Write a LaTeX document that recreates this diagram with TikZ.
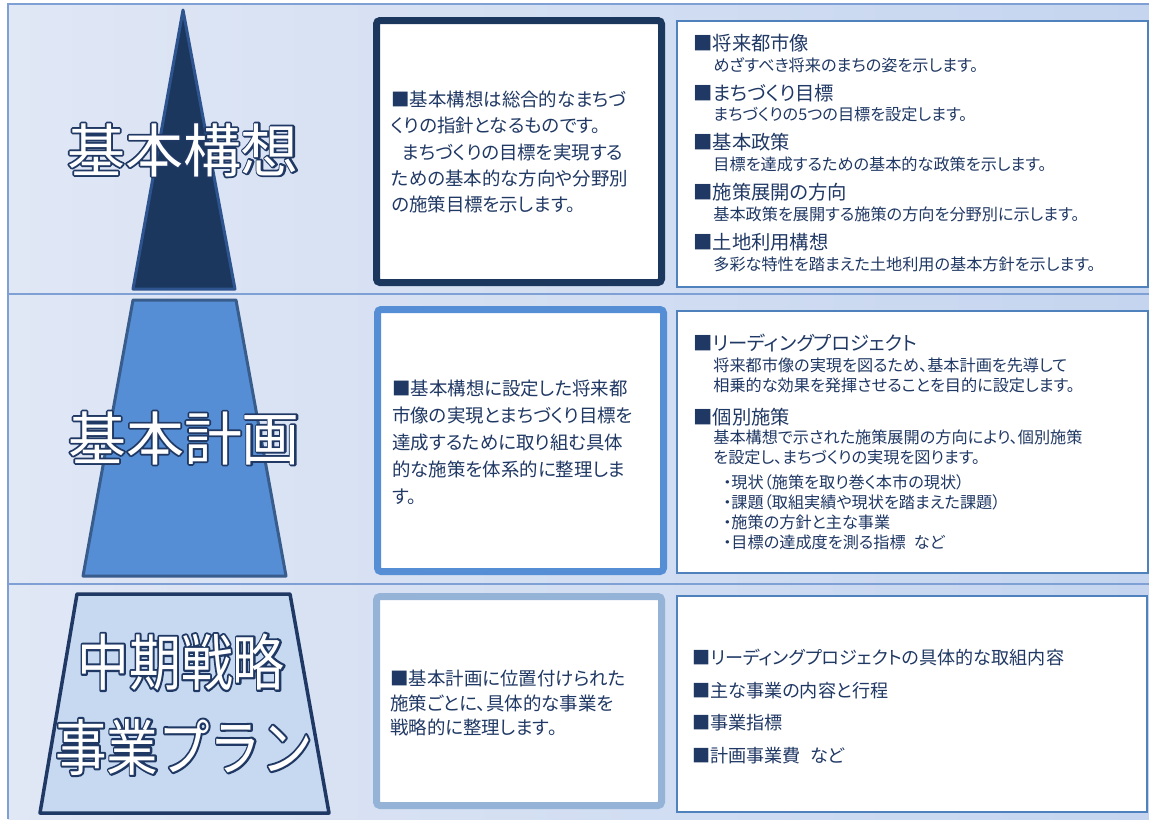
\documentclass[tikz,border=0pt]{standalone}
\usepackage{fontspec}
\usepackage{xcolor}
\usepackage{graphicx}
\usepackage{tikz}
\usetikzlibrary{positioning}
\setmainfont{Noto Sans CJK JP}[RawFeature=+palt]
\newfontfamily\titlefont{Noto Sans CJK JP}
\newlength{\pxu}
\setlength{\pxu}{0.02cm}
\newcommand{\rimtext}[1]{\rlap{\special{pdf:literal direct 1 Tr 2 w 1 j 0.122 0.220 0.392 RG}#1\special{pdf:literal direct 0 Tr 0 j 0.398 w}}#1}
\definecolor{bgleft}{RGB}{224,231,245}
\definecolor{bgright}{RGB}{197,213,239}
\definecolor{rulecol}{RGB}{126,160,212}
\definecolor{kousoublue}{RGB}{27,55,94}
\definecolor{kousouedge}{RGB}{46,84,144}
\definecolor{keikakublue}{RGB}{85,142,213}
\definecolor{keikakuedge}{RGB}{56,93,140}
\definecolor{planblue}{RGB}{198,217,241}
\definecolor{planframe}{RGB}{149,179,215}
\definecolor{navy}{RGB}{31,56,100}
\definecolor{listedge}{RGB}{79,129,189}
\definecolor{textnavy}{RGB}{32,56,100}

\begin{document}
\begin{tikzpicture}[x=0.02cm, y=-0.02cm,
    tierline/.style={line width=3\pxu, line join=round},
    midframe/.style={line width=7\pxu, rounded corners=2pt, fill=white},
    listbox/.style={draw=listedge, line width=1.5\pxu, fill=white},
    tiertitle/.style={text=white, inner sep=0pt},
    midtext/.style={font=\fontsize{10.5}{15}\selectfont, text=textnavy, align=left, anchor=west, inner sep=0pt},
    listhead/.style={font=\fontsize{11}{13}\selectfont, text=textnavy, anchor=west, inner sep=0pt},
    listsub/.style={font=\fontsize{9.2}{11.3}\selectfont, text=textnavy, align=left, anchor=west, inner sep=0pt},
    plantext/.style={font=\fontsize{10.3}{12}\selectfont, text=textnavy, anchor=west, inner sep=0pt}
]
    \useasboundingbox (0,0) rectangle (1149,819);
    \shade[left color=bgleft, right color=bgright] (8,4) rectangle (1149,819);
    \draw[rulecol, line width=2\pxu] (8,819) -- (8,4) -- (1149,4);
    \draw[rulecol, line width=2\pxu] (8,293.5) -- (1149,293.5);
    \draw[rulecol, line width=2\pxu] (8,584) -- (1149,584);

    \filldraw[tierline, fill=kousoublue, draw=kousouedge] (183,10) -- (235,289) -- (133,289) -- cycle;
    \filldraw[tierline, fill=keikakublue, draw=keikakuedge] (133,300) -- (236,300) -- (286,576) -- (83,576) -- cycle;
    \filldraw[tierline, fill=planblue, draw=navy, line width=3.5\pxu] (77,594) -- (290,594) -- (329,813) -- (40,813) -- cycle;

    \draw[midframe, draw=kousoublue] (376.5,20.5) rectangle (661.5,282.5);
    \draw[midframe, draw=keikakublue] (377.5,309.5) rectangle (663.5,571.5);
    \draw[midframe, draw=planframe] (376.5,596.5) rectangle (661.5,805.5);

    \draw[listbox] (677,21) rectangle (1148,287);
    \draw[listbox] (677,311) rectangle (1148,573);
    \draw[listbox] (677,596) rectangle (1147,812);

    \foreach \ttl/\tx/\ty/\ts/\tf [count=\k] in {基本構想/183/150/33/1,基本計画/184/438/33/1,中期戦略/181/662/29.5/1.18,事業プラン/184/747/29.3/1.18}
        \node[tiertitle, font=\titlefont\fontsize{\ts}{\ts}\selectfont] (title\k) at (\tx,\ty) {\scalebox{1}[\tf]{\rimtext{\ttl}}};

    \node[midtext] (kousoutext) at (391,152) {■基本構想は総合的なまちづ\\くりの指針となるものです。\\\hspace*{0.6em}まちづくりの目標を実現する\\ための基本的な方向や分野別\\の施策目標を示します。};
    \node[midtext, font=\fontsize{10.5}{15.4}\selectfont] (keikakutext) at (392,442) {■基本構想に設定した将来都\\市像の実現とまちづくり目標を\\達成するために取り組む具体\\的な施策を体系的に整理しま\\す。};
    \node[midtext, font=\fontsize{10.5}{13.9}\selectfont] (plantext) at (390,703) {■基本計画に位置付けられた\\施策ごとに、具体的な事業を\\戦略的に整理します。};

    \foreach \headtxt/\subtxt [count=\i from 0] in {将来都市像/めざすべき将来のまちの姿を示します。,まちづくり目標/まちづくりの5つの目標を設定します。,基本政策/目標を達成するための基本的な政策を示します。,施策展開の方向/基本政策を展開する施策の方向を分野別に示します。,土地利用構想/多彩な特性を踏まえた土地利用の基本方針を示します。}{
        \node[listhead] (kousouhead\i) at (693,43+49.8*\i) {■\headtxt};
        \node[listsub] (kousousub\i) at (713,65+49.8*\i) {\subtxt};
    }

    \node[listhead] (projhead) at (693,343) {■リーディングプロジェクト};
    \node[listsub] (projsub) at (713,375) {将来都市像の実現を図るため、基本計画を先導して\\相乗的な効果を発揮させることを目的に設定します。};
    \node[listhead] (sesakuhead) at (693,417) {■個別施策};
    \node[listsub] (sesakusub) at (713,447) {基本構想で示された施策展開の方向により、個別施策\\を設定し、まちづくりの実現を図ります。};
    \node[listsub] (sesakulist) at (723,512) {・現状（施策を取り巻く本市の現状）\\・課題（取組実績や現状を踏まえた課題）\\・施策の方針と主な事業\\・目標の達成度を測る指標\hspace{0.5em}など};

    \foreach \entry [count=\i from 0] in {リーディングプロジェクトの具体的な取組内容,主な事業の内容と行程,事業指標,計画事業費\hspace{0.5em}など}
        \node[plantext] (planitem\i) at (692,658+32.4*\i) {■\entry};
\end{tikzpicture}
\end{document}
